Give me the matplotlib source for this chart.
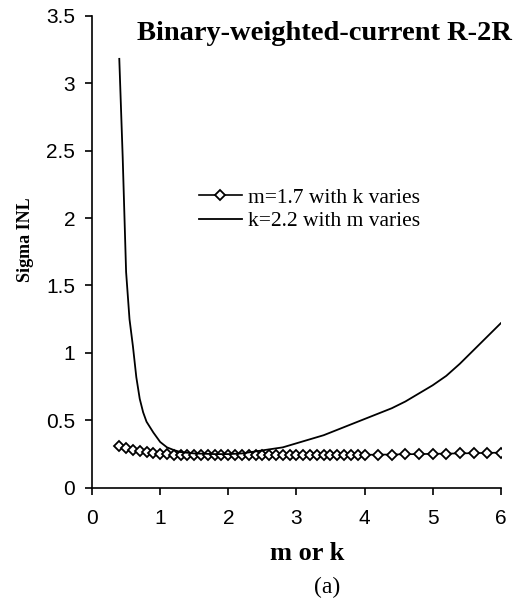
import numpy as np
import matplotlib
matplotlib.use('Agg')
import matplotlib.pyplot as plt

# m=1.7, k varies (diamond markers)
k_vals = [0.4, 0.5, 0.6, 0.7, 0.8, 0.9, 1.0, 1.1, 1.2, 1.3, 1.4, 1.5, 1.6, 1.7,
          1.8, 1.9, 2.0, 2.1, 2.2, 2.3, 2.4, 2.5, 2.6, 2.7, 2.8, 2.9, 3.0, 3.1,
          3.2, 3.3, 3.4, 3.5, 3.6, 3.7, 3.8, 3.9, 4.0,
          4.2, 4.4, 4.6, 4.8, 5.0, 5.2, 5.4, 5.6, 5.8, 6.0]
sigma_k = [0.31, 0.295, 0.282, 0.272, 0.264, 0.257, 0.252, 0.248, 0.245, 0.243, 0.242, 0.241, 0.240, 0.240,
           0.240, 0.240, 0.240, 0.240, 0.240, 0.240, 0.240, 0.240, 0.240, 0.240, 0.240, 0.240, 0.240, 0.241,
           0.241, 0.241, 0.242, 0.242, 0.242, 0.243, 0.243, 0.244, 0.245,
           0.246, 0.247, 0.249, 0.250, 0.252, 0.254, 0.255, 0.257, 0.259, 0.261]

# k=2.2, m varies (plain line)
m_vals = [0.4, 0.45, 0.5, 0.55, 0.6, 0.65, 0.7, 0.75, 0.8, 0.9, 1.0, 1.1, 1.2, 1.3,
          1.5, 1.8, 2.0, 2.2, 2.4, 2.6, 2.8, 3.0, 3.2, 3.4, 3.6, 3.8, 4.0,
          4.2, 4.4, 4.6, 4.8, 5.0, 5.2, 5.4, 5.6, 5.8, 6.0]
sigma_m = [3.18, 2.45, 1.6, 1.25, 1.05, 0.82, 0.66, 0.56, 0.49, 0.41, 0.34, 0.30, 0.28, 0.265,
           0.255, 0.25, 0.25, 0.255, 0.27, 0.285, 0.30, 0.33, 0.36, 0.39, 0.43, 0.47, 0.51,
           0.55, 0.59, 0.64, 0.70, 0.76, 0.83, 0.92, 1.02, 1.12, 1.22]

serif = ['Liberation Serif', 'DejaVu Serif']
sans = ['Liberation Sans', 'DejaVu Sans']

fig = plt.figure(figsize=(5.2, 6.03), dpi=100)
ax = fig.add_axes([0.177, 0.191, 0.786, 0.783])

ax.plot(k_vals, sigma_k, color='black', lw=1.2, marker='D', markersize=5.5,
        markerfacecolor='white', markeredgecolor='black', markeredgewidth=1.3,
        label='m=1.7 with k varies')
ax.plot(m_vals, sigma_m, color='black', lw=1.3, label='k=2.2 with m varies')

ax.set_xlim(0, 6)
ax.set_ylim(0, 3.5)
ax.set_xticks(range(0, 7))
ax.set_yticks([0, 0.5, 1, 1.5, 2, 2.5, 3, 3.5])
ax.set_yticklabels(['0', '0.5', '1', '1.5', '2', '2.5', '3', '3.5'])
for s in ['top', 'right']:
    ax.spines[s].set_visible(False)
for s in ['left', 'bottom']:
    ax.spines[s].set_linewidth(1.2)
ax.tick_params(direction='out', length=5, width=1.2, labelsize=15)
ax.tick_params(axis='y', pad=7)
ax.tick_params(axis='x', pad=10)
for lab in ax.get_xticklabels() + ax.get_yticklabels():
    lab.set_family(sans)

# axis titles and caption
fig.text(25 / 520, 1 - 240 / 603, 'Sigma INL', family=serif, fontweight='bold',
         fontsize=13, rotation=90, ha='center', va='center')
fig.text(307 / 520, 1 - 553 / 603, 'm or k', family=serif, fontweight='bold',
         fontsize=19, ha='center', va='center')
fig.text(327 / 520, 1 - 587 / 603, '(a)', family=serif, fontsize=17,
         ha='center', va='center')

fig.text(512 / 520, 1 - 33 / 603, 'Binary-weighted-current R-2R', family=serif,
         fontweight='bold', fontsize=20.5, ha='right', va='center')

leg = ax.legend(loc='upper left', bbox_to_anchor=(0.235, 0.658), frameon=False,
                prop={'family': serif, 'size': 15.5}, handlelength=2.0,
                handletextpad=0.3, labelspacing=0.15, borderpad=0)

fig.savefig('out.png', dpi=100)
